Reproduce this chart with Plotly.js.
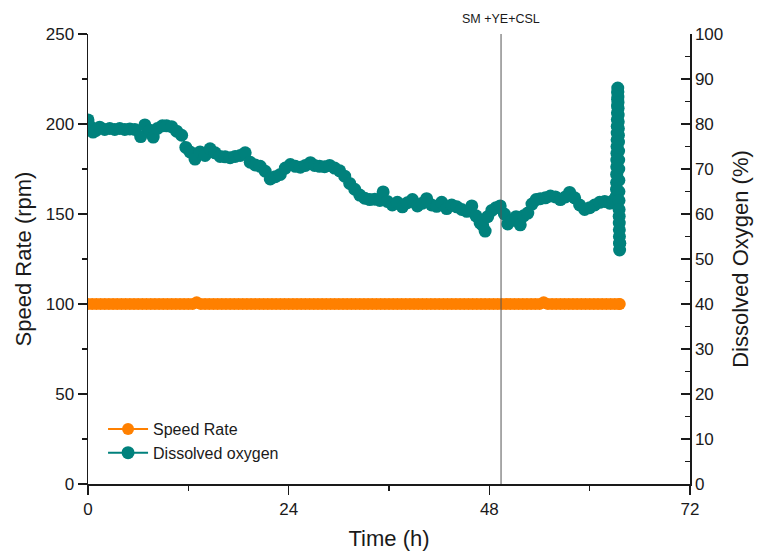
<!DOCTYPE html>
<html>
<head>
<meta charset="utf-8">
<script src="https://cdn.plot.ly/plotly-3.0.1.min.js"></script>
<style>
  html, body { margin: 0; padding: 0; background: #fff; }
  #chart { width: 760px; height: 551px; }
</style>
</head>
<body>
<div id="chart"></div>
<script>
// Agitation speed (rpm) over the run, logged every half hour
const speedTime = [0, 0.5, 1, 1.5, 2, 2.5, 3, 3.5, 4, 4.5, 5, 5.5, 6, 6.5, 7, 7.5, 8, 8.5, 9, 9.5,
  10, 10.5, 11, 11.5, 12, 12.5, 13, 13.5, 14, 14.5, 15, 15.5, 16, 16.5, 17, 17.5, 18, 18.5, 19, 19.5,
  20, 20.5, 21, 21.5, 22, 22.5, 23, 23.5, 24, 24.5, 25, 25.5, 26, 26.5, 27, 27.5, 28, 28.5, 29, 29.5,
  30, 30.5, 31, 31.5, 32, 32.5, 33, 33.5, 34, 34.5, 35, 35.5, 36, 36.5, 37, 37.5, 38, 38.5, 39, 39.5,
  40, 40.5, 41, 41.5, 42, 42.5, 43, 43.5, 44, 44.5, 45, 45.5, 46, 46.5, 47, 47.5, 48, 48.5, 49, 49.5,
  50, 50.5, 51, 51.5, 52, 52.5, 53, 53.5, 54, 54.5, 55, 55.5, 56, 56.5, 57, 57.5, 58, 58.5, 59, 59.5,
  60, 60.5, 61, 61.5, 62, 62.5, 63, 63.5, 63.6];
const speedRate = [100, 100, 100, 100, 100, 100, 100, 100, 100, 100, 100, 100, 100, 100, 100, 100, 100, 100, 100, 100,
  100, 100, 100, 100, 100, 100, 101, 100, 100, 100, 100, 100, 100, 100, 100, 100, 100, 100, 100, 100,
  100, 100, 100, 100, 100, 100, 100, 100, 100, 100, 100, 100, 100, 100, 100, 100, 100, 100, 100, 100,
  100, 100, 100, 100, 100, 100, 100, 100, 100, 100, 100, 100, 100, 100, 100, 100, 100, 100, 100, 100,
  100, 100, 100, 100, 100, 100, 100, 100, 100, 100, 100, 100, 100, 100, 100, 100, 100, 100, 100, 100,
  100, 100, 100, 100, 100, 100, 100, 100, 100, 101, 100, 100, 100, 100, 100, 100, 100, 100, 100, 100,
  100, 100, 100, 100, 100, 100, 100, 100, 100];

// Dissolved oxygen (%) over the run
const doTime = [0.0, 0.24, 0.6, 0.96, 1.4, 2.0, 2.6, 3.2, 3.8, 4.4, 5.0, 5.6, 6.3, 6.8, 7.4, 7.8, 8.3, 8.9,
  9.4, 10.0, 10.6, 11.2, 11.7, 12.2, 12.8, 13.4, 14.0, 14.6, 15.2, 15.8, 16.4, 17.0, 17.6, 18.2, 18.8,
  19.4, 20.0, 20.6, 21.2, 21.8, 22.4, 23.0, 23.6, 24.2, 24.8, 25.4, 26.0, 26.6, 27.1, 27.7, 28.3, 28.9,
  29.5, 30.1, 30.7, 31.3, 31.9, 32.5, 33.1, 33.7, 34.3, 34.9, 35.3, 35.8, 36.4, 37.0, 37.6, 38.2, 38.8,
  39.4, 40.0, 40.5, 41.1, 41.7, 42.3, 42.9, 43.5, 44.1, 44.7, 45.3, 45.9, 46.4, 46.9, 47.2, 47.5, 47.8,
  48.3, 48.8, 49.3, 49.8, 50.2, 50.7, 51.2, 51.7, 52.1, 52.6, 53.1, 53.6, 54.1, 54.7, 55.3, 55.9, 56.5,
  57.1, 57.6, 58.2, 58.8, 59.4, 60.0, 60.6, 61.2, 61.8, 62.4, 62.8, 63.1,
  63.2, 63.21, 63.22, 63.23, 63.24, 63.25, 63.26, 63.27, 63.28, 63.29, 63.3, 63.31, 63.32, 63.33, 63.34,
  63.35, 63.36, 63.37, 63.38, 63.39, 63.4, 63.41, 63.42, 63.43, 63.44, 63.45, 63.46, 63.47, 63.48,
  63.49, 63.5, 63.51, 63.52, 63.53, 63.54, 63.55, 63.56, 63.57, 63.58, 63.6];
const dissolvedOxygen = [80.9, 79.5, 78.2, 78.6, 79.3, 78.8, 79.0, 78.8, 79.0, 78.8, 78.9, 78.8, 77.2, 79.8, 78.6, 77.1, 79.0, 79.6,
  79.6, 79.4, 78.4, 77.5, 74.8, 73.8, 72.2, 73.8, 73.0, 74.5, 73.6, 72.8, 72.7, 72.5, 72.8, 73.0, 73.6,
  71.5, 70.9, 70.6, 69.5, 67.8, 68.3, 68.8, 70.2, 71.0, 70.6, 70.4, 70.8, 71.4, 70.8, 70.6, 70.5, 70.8,
  70.2, 69.6, 68.4, 66.8, 65.5, 64.2, 63.5, 63.2, 63.3, 63.0, 64.9, 62.8, 62.0, 62.6, 61.6, 62.5, 63.2,
  61.8, 62.4, 63.4, 62.0, 61.7, 62.6, 61.2, 62.0, 61.6, 61.0, 60.6, 61.8, 59.6, 58.0, 57.5, 56.2, 59.4,
  60.8, 61.4, 61.8, 60.0, 57.8, 58.6, 59.4, 57.6, 59.6, 60.2, 62.2, 63.2, 63.4, 63.6, 64.0, 63.8, 63.2,
  63.8, 64.8, 63.6, 62.0, 61.0, 61.4, 62.0, 62.6, 62.8, 62.4, 63.0, 62.4,
  64.0, 65.5, 67.0, 68.8, 70.5, 72.0, 73.5, 75.0, 76.5, 78.0, 79.5, 81.0, 82.5, 84.0, 85.5,
  87.0, 88.0, 87.2, 86.0, 84.8, 83.5, 82.0, 80.5, 79.0, 77.5, 76.0, 74.0, 72.0, 70.0,
  67.5, 65.0, 63.0, 61.0, 59.5, 58.0, 56.5, 55.0, 53.5, 52.0, 53.5];

// Feed addition marker
const feedTime = 49.4;
const feedLabel = 'SM +YE+CSL';

const axisColor = '#1a1a1a';
const font = 'Liberation Sans, Arial, sans-serif';

const traces = [
  {
    x: speedTime, y: speedRate, name: 'Speed Rate',
    type: 'scatter', mode: 'lines+markers', xaxis: 'x', yaxis: 'y',
    line: { color: '#FF8000', width: 2 },
    marker: { color: '#FF8000', size: 12, symbol: 'circle' }
  },
  {
    x: doTime, y: dissolvedOxygen, name: 'Dissolved oxygen',
    type: 'scatter', mode: 'lines+markers', xaxis: 'x', yaxis: 'y2',
    line: { color: '#00817C', width: 2 },
    marker: { color: '#00817C', size: 13, symbol: 'circle' }
  }
];

const layout = {
  width: 760, height: 551,
  margin: { l: 88, r: 70, t: 34, b: 67 },
  paper_bgcolor: '#fff', plot_bgcolor: '#fff',
  font: { family: font, color: '#1a1a1a', size: 17 },
  showlegend: true,
  legend: {
    x: 0.025, y: 0.16, xanchor: 'left', yanchor: 'top',
    bgcolor: 'rgba(0,0,0,0)', font: { size: 16, family: font },
    tracegroupgap: 0, itemwidth: 40
  },
  xaxis: {
    range: [0, 72], tickvals: [0, 24, 48, 72], ticks: 'outside', ticklen: 9, tickwidth: 1.5,
    tickcolor: axisColor, showline: true, linecolor: axisColor, linewidth: 1.5,
    showgrid: false, zeroline: false, tickfont: { size: 17 },
    minor: { dtick: 12, tick0: 0, ticks: 'outside', ticklen: 5, tickwidth: 1.5, tickcolor: axisColor, showgrid: false },
    title: { text: 'Time (h)', font: { size: 22 }, standoff: 14 }
  },
  xaxis2: {
    overlaying: 'x', side: 'top', range: [0, 72], anchor: 'y',
    tickvals: [0, 24, 48, 72], ticks: 'inside', ticklen: 9, tickwidth: 1.5, tickcolor: axisColor,
    showticklabels: false, showline: true, linecolor: axisColor, linewidth: 1.5,
    showgrid: false, zeroline: false,
    minor: { dtick: 12, tick0: 0, ticks: 'inside', ticklen: 5, tickwidth: 1.5, tickcolor: axisColor, showgrid: false }
  },
  yaxis: {
    range: [0, 250], dtick: 50, ticks: 'outside', ticklen: 9, tickwidth: 1.5, tickcolor: axisColor,
    showline: true, linecolor: axisColor, linewidth: 1.5, showgrid: false, zeroline: false,
    tickfont: { size: 17 },
    minor: { dtick: 25, ticks: 'outside', ticklen: 5, tickwidth: 1.5, tickcolor: axisColor, showgrid: false },
    title: { text: 'Speed Rate (rpm)', font: { size: 22 }, standoff: 8 }
  },
  yaxis2: {
    overlaying: 'y', side: 'right', anchor: 'x',
    range: [0, 100], dtick: 10, ticks: 'inside', ticklen: 9, tickwidth: 1.5, tickcolor: axisColor,
    showline: true, linecolor: axisColor, linewidth: 1.5, showgrid: false, zeroline: false,
    tickfont: { size: 17 },
    minor: { dtick: 5, ticks: 'inside', ticklen: 5, tickwidth: 1.5, tickcolor: axisColor, showgrid: false },
    title: { text: 'Dissolved Oxygen (%)', font: { size: 22 }, standoff: 10 }
  },
  shapes: [
    { type: 'line', xref: 'x', yref: 'paper', x0: feedTime, x1: feedTime, y0: 0, y1: 1,
      line: { color: '#555555', width: 1 }, layer: 'above' }
  ],
  annotations: [
    { x: feedTime, y: 1.0, xref: 'x', yref: 'paper', yanchor: 'bottom', yshift: 6,
      text: feedLabel, showarrow: false, font: { size: 12.5, family: font, color: '#1a1a1a' } }
  ]
};

Plotly.newPlot('chart', traces, layout, { displayModeBar: false, staticPlot: true });
</script>
</body>
</html>
